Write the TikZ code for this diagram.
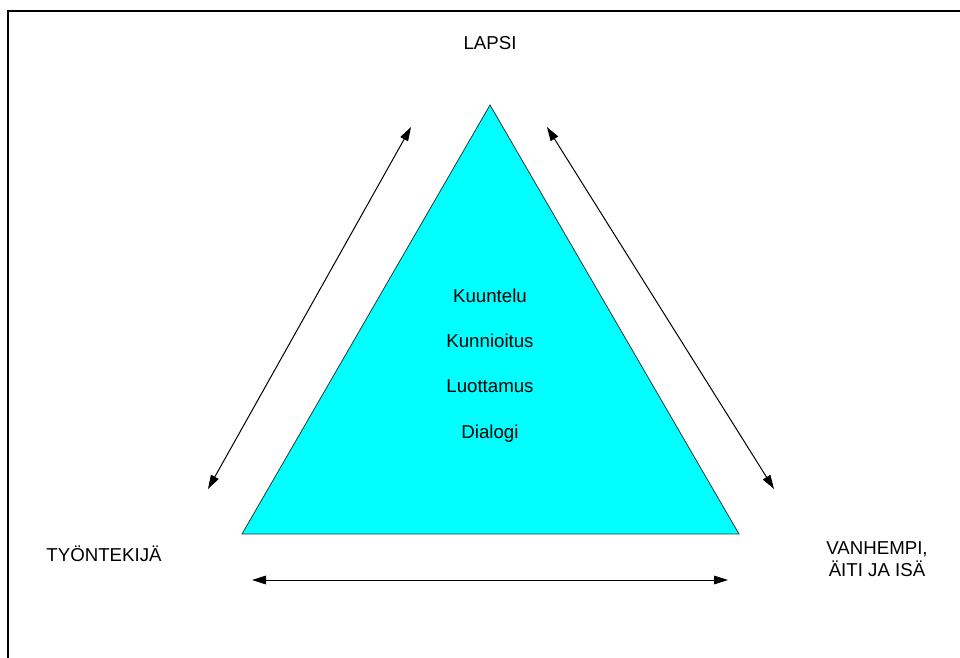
\documentclass[tikz,border=0pt]{standalone}
\usepackage{fontspec}
\setmainfont{Liberation Sans}
\usetikzlibrary{arrows.meta}
\definecolor{tri}{HTML}{00FFFF}
\begin{document}
\begin{tikzpicture}[x=0.75pt,y=-0.75pt,
  lbl/.style={font=\fontsize{14}{17}\selectfont, inner sep=0pt, align=center},
  dbl/.style={line width=0.75pt, {Triangle[length=10.5pt,width=6.5pt]}-{Triangle[length=10.5pt,width=6.5pt]}},
  frame/.style={line width=2.2pt, draw=black},
  trishape/.style={fill=tri, draw=black!80, line width=0.6pt}]
\useasboundingbox (0,0) rectangle (960,657);
\begin{scope}
\clip (0,0) rectangle (960,657);
\draw[frame] (8,11) rectangle (980,680);
\end{scope}
% triangle
\coordinate (apex) at (490,105);
\coordinate (bl) at (242,534);
\coordinate (br) at (739,534);
\draw[trishape] (apex) -- (bl) -- (br) -- cycle;
% labels
\node[lbl] (lapsi) at (490,43) {LAPSI};
\node[lbl] (k1) at (490,296) {Kuuntelu};
\node[lbl] (k2) at (490,341) {Kunnioitus};
\node[lbl] (k3) at (490,386) {Luottamus};
\node[lbl] (k4) at (490,434) {Dialogi};
\node[lbl] (tyo) at (104,554) {TYÖNTEKIJÄ};
\node[lbl] (van) at (877,559) {VANHEMPI,\\ÄITI JA ISÄ};
% arrow endpoints
\coordinate (l1) at (208,489);
\coordinate (l2) at (411,127);
\coordinate (r1) at (547,127);
\coordinate (r2) at (774,489);
\coordinate (b1) at (252,580);
\coordinate (b2) at (728,580);
\draw[dbl] (l1) -- (l2);
\draw[dbl] (r1) -- (r2);
\draw[dbl] (b1) -- (b2);
\end{tikzpicture}
\end{document}
